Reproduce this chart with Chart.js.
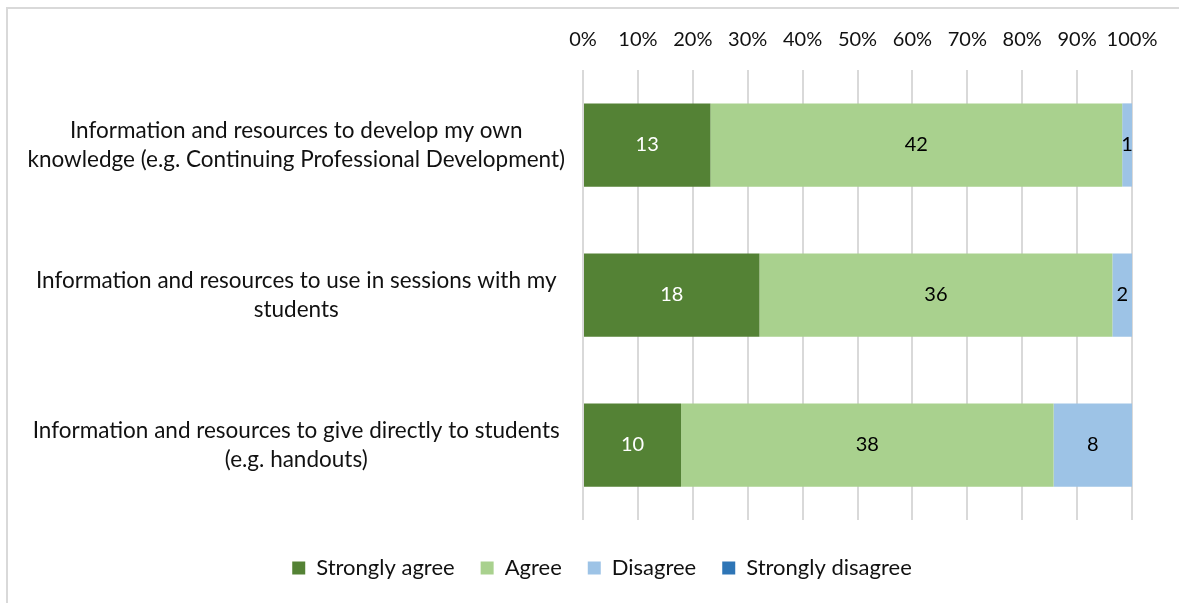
<!DOCTYPE html>
<html>
<head>
<meta charset="utf-8">
<script src="https://cdn.jsdelivr.net/npm/chart.js@4"></script>
<style>
  html, body { margin: 0; padding: 0; background: #fff; overflow: hidden; }
  #frame { position: absolute; left: 6px; top: 7px; width: 1300px; height: 700px; border: 2px solid #d9d9d9; }
  #chart { position: absolute; left: 0; top: 0; }
</style>
</head>
<body>
<div id="frame"></div>
<canvas id="chart" width="1199" height="603"></canvas>
<script>
const categories = [
  ["Information and resources to develop my own", "knowledge (e.g. Continuing Professional Development)"],
  ["Information and resources to use in sessions with my", "students"],
  ["Information and resources to give directly to students", "(e.g. handouts)"]
];
const seriesNames = ["Strongly agree", "Agree", "Disagree", "Strongly disagree"];
const stronglyAgree = [13, 18, 10];
const agree = [42, 36, 38];
const disagree = [1, 2, 8];
const stronglyDisagree = [0, 0, 0];
const seriesColors = ["#548235", "#A9D18E", "#9DC3E6", "#2E75B6"];
const valueColors = ["#ffffff", "#000000", "#000000", "#ffffff"];

const counts = [stronglyAgree, agree, disagree, stronglyDisagree];
const totals = categories.map((c, i) => counts.reduce((s, arr) => s + arr[i], 0));

function toPercent(arr) {
  return arr.map((v, i) => v / totals[i] * 100);
}

const FONT = "Lato, 'Open Sans', sans-serif";

// writes the raw count in the middle of each segment
const segmentLabels = {
  id: "segmentLabels",
  afterDatasetsDraw(chart) {
    const ctx = chart.ctx;
    ctx.save();
    ctx.font = "20px " + FONT;
    ctx.textAlign = "center";
    ctx.textBaseline = "middle";
    chart.data.datasets.forEach((ds, d) => {
      const meta = chart.getDatasetMeta(d);
      meta.data.forEach((bar, i) => {
        const v = counts[d][i];
        if (!v) return;
        ctx.fillStyle = valueColors[d];
        ctx.fillText(v, (bar.x + bar.base) / 2, bar.y);
      });
    });
    ctx.restore();
  }
};

// empty strips used only to reserve space around the plot
function spacer(position, size) {
  return {
    type: "linear",
    position: position,
    display: true,
    border: { display: false },
    grid: { display: false },
    ticks: { display: false },
    afterFit: s => {
      if (position === "right") s.width = size;
      else s.height = size;
    }
  };
}

new Chart(document.getElementById("chart"), {
  type: "bar",
  data: {
    labels: categories,
    datasets: seriesNames.map((name, d) => ({
      label: name,
      data: toPercent(counts[d]),
      xAxisID: "x",
      yAxisID: "y",
      backgroundColor: seriesColors[d],
      borderWidth: 0,
      categoryPercentage: 1,
      barPercentage: 0.555
    }))
  },
  options: {
    indexAxis: "y",
    responsive: false,
    animation: false,
    layout: { padding: { left: 5, right: 0, top: 20, bottom: 14 } },
    scales: {
      x: {
        position: "top",
        stacked: true,
        min: 0,
        max: 100,
        border: { display: false },
        grid: { color: "#d9d9d9", lineWidth: 2, drawTicks: false },
        ticks: {
          stepSize: 10,
          padding: 18,
          maxRotation: 0,
          minRotation: 0,
          autoSkip: false,
          color: "#111",
          font: { family: FONT, size: 20 },
          callback: v => v + "%"
        },
        afterFit: s => { s.height = 50; }
      },
      y: {
        stacked: true,
        border: { display: false },
        grid: { display: false },
        ticks: {
          crossAlign: "center",
          padding: 10,
          color: "#111",
          font: { family: FONT, size: 22.5, lineHeight: 1.3 }
        },
        afterFit: s => { s.width = 578; }
      },
      gapBottom: spacer("bottom", 11),
      gapRight: spacer("right", 67)
    },
    plugins: {
      legend: {
        position: "bottom",
        labels: {
          boxWidth: 13,
          boxHeight: 13,
          padding: 26,
          color: "#111",
          font: { family: FONT, size: 22 }
        }
      },
      tooltip: { enabled: false }
    }
  },
  plugins: [segmentLabels]
});
</script>
</body>
</html>
